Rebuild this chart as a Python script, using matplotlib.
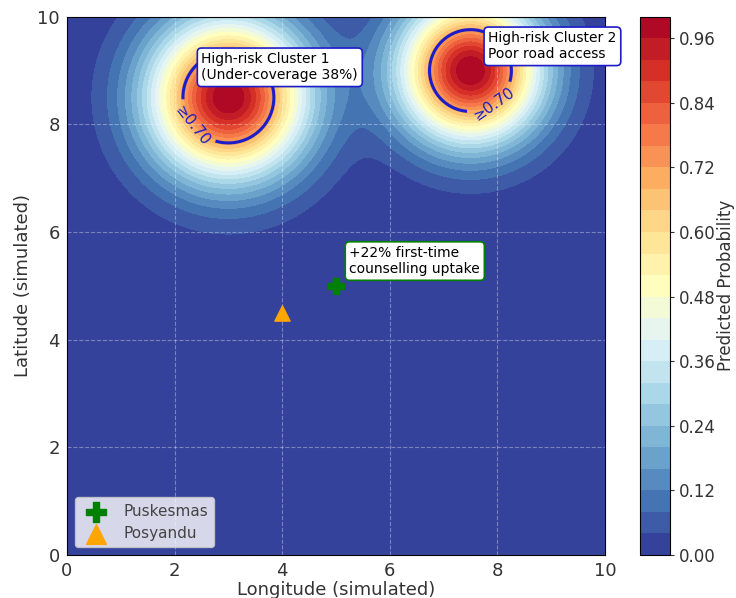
import numpy as np
import matplotlib
matplotlib.use('Agg')
import matplotlib.pyplot as plt

# risk hotspots (centre x, centre y, spread)
cluster_x = [3.0, 7.5]
cluster_y = [8.5, 9.0]
cluster_sigma = [1.0, 0.9]

# facilities
puskesmas_x = [5.0]
puskesmas_y = [5.0]
posyandu_x = [4.0]
posyandu_y = [4.5]

annot_texts = ["High-risk Cluster 1\n(Under-coverage 38%)",
               "High-risk Cluster 2\nPoor road access",
               "+22% first-time\ncounselling uptake"]

# build the simulated probability surface
xs = np.linspace(0, 10, 300)
ys = np.linspace(0, 10, 300)
X, Y = np.meshgrid(xs, ys)
Z = np.zeros_like(X)
for cx, cy, s in zip(cluster_x, cluster_y, cluster_sigma):
    Z += np.exp(-((X - cx)**2 + (Y - cy)**2) / (2 * s**2))
Z = np.clip(Z, 0, 1)

fig = plt.figure(figsize=(7.36, 5.98), dpi=100)
ax = fig.add_axes([0.091, 0.072, 0.731, 0.9])
cax = fig.add_axes([0.8696, 0.072, 0.0408, 0.9])

levels = np.linspace(0, 1, 26)
cf = ax.contourf(X, Y, Z, levels=levels, cmap='RdYlBu_r')

cs = ax.contour(X, Y, Z, levels=[0.7], colors='#1c1cc8', linewidths=2.2)
ax.clabel(cs, fmt={0.7: '≥0.70'}, fontsize=11, inline=True,
          manual=[(2.1, 7.8), (7.95, 8.35)])

ax.scatter(puskesmas_x, puskesmas_y, marker='P', s=120, color='green',
           label='Puskesmas', zorder=5)
ax.scatter(posyandu_x, posyandu_y, marker='^', s=120, color='orange',
           label='Posyandu', zorder=5)

box_blue = dict(boxstyle='round,pad=0.3', fc='white', ec='#1c1cc8', lw=1.2)
box_green = dict(boxstyle='round,pad=0.3', fc='white', ec='green', lw=1.2)
ax.text(2.5, 8.78, annot_texts[0], fontsize=10, va='bottom', bbox=box_blue, zorder=6)
ax.text(7.83, 9.17, annot_texts[1], fontsize=10, va='bottom', bbox=box_blue, zorder=6)
ax.text(5.25, 5.18, annot_texts[2], fontsize=10, va='bottom', bbox=box_green, zorder=6)

ax.set_xlim(0, 10)
ax.set_ylim(0, 10)
ax.grid(True, linestyle='--', color='white', alpha=0.35, linewidth=0.8)
ax.set_xlabel('Longitude (simulated)', fontsize=13, color='#333333', labelpad=1)
ax.set_ylabel('Latitude (simulated)', fontsize=13, color='#333333')
ax.tick_params(labelsize=13, colors='#333333', length=0, pad=5)
ax.legend(loc='lower left', fontsize=11, labelcolor='#444444', markerscale=1.3)

cb = fig.colorbar(cf, cax=cax)
cb.set_label('Predicted Probability', fontsize=12, color='#333333', labelpad=1)
cb.ax.tick_params(labelsize=12, colors='#333333', length=3)

fig.savefig('out.png', dpi=100)
